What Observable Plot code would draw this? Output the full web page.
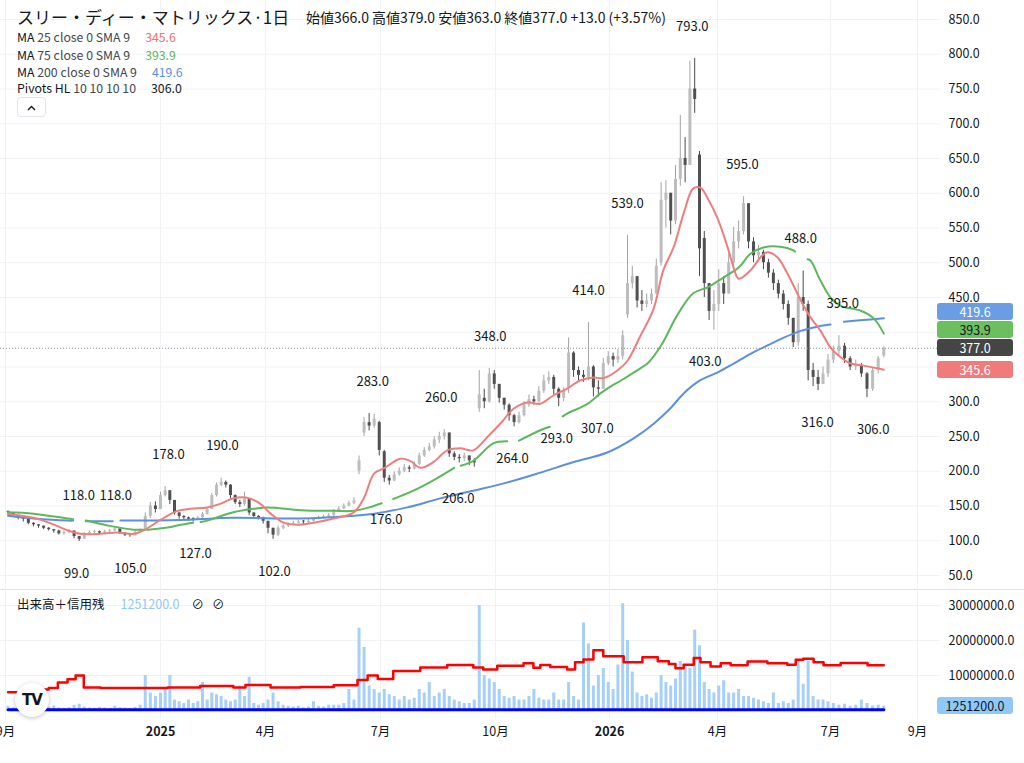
<!DOCTYPE html>
<html lang="ja"><head><meta charset="utf-8">
<script src="https://cdn.jsdelivr.net/npm/d3@7"></script>
<script src="https://cdn.jsdelivr.net/npm/@observablehq/plot@0.6"></script>
<style>
html,body{margin:0;padding:0;background:#fff;}
body{font-family:"Noto Sans CJK JP","Noto Sans",sans-serif;color:#131722;}
#wrap{position:relative;width:1024px;height:763px;overflow:hidden;background:#fff;}
.abs{position:absolute;white-space:nowrap;}
#title{left:17px;top:6px;font-size:17px;line-height:22px;}
#ohlc{left:306px;top:7px;font-size:14px;line-height:20px;}
.leg{left:17px;font-size:12.3px;line-height:16px;}
.leg .a{color:#434651;}
.leg .v{margin-left:15px;}
#btn{left:17px;top:97px;width:29px;height:20px;border:1px solid #e0e3eb;border-radius:4px;box-sizing:border-box;}
.badge{position:absolute;left:937px;width:76px;height:17px;border-radius:3px;font-size:12.5px;line-height:17px;text-align:center;}
#price{position:absolute;left:0;top:0;}
#vol{position:absolute;left:0;top:589px;}
#sep{position:absolute;left:0;top:589px;width:1024px;height:1px;background:#e0e3eb;}
#logo{left:15px;top:683px;width:34px;height:34px;border-radius:50%;background:#fff;box-shadow:0 1px 4px rgba(0,0,0,.25);font-weight:900;font-size:15px;line-height:34px;text-align:center;letter-spacing:-1px;font-family:"DejaVu Sans",sans-serif;}
#vleg{left:17px;top:596px;font-size:12.5px;line-height:16px;}
</style></head>
<body><div id="wrap">
<div id="price"></div>
<div id="sep"></div>
<div id="vol"></div>
<div class="abs" id="title">スリー・ディー・マトリックス·1日</div>
<div class="abs" id="ohlc">始値366.0 高値379.0 安値363.0 終値377.0 +13.0 (+3.57%)</div>
<div class="abs leg" style="top:29px">MA <span class="a">25 close 0 SMA 9</span><span class="v" style="color:#ef6f6f">345.6</span></div>
<div class="abs leg" style="top:47px">MA <span class="a">75 close 0 SMA 9</span><span class="v" style="color:#5cb85c">393.9</span></div>
<div class="abs leg" style="top:64px">MA <span class="a">200 close 0 SMA 9</span><span class="v" style="color:#5b8fdf">419.6</span></div>
<div class="abs leg" style="top:80px">Pivots HL <span class="a">10 10 10 10</span><span class="v" style="color:#131722">306.0</span></div>
<div class="abs" id="btn"><svg width="27" height="18"><path d="M10 11 L13.5 7.5 L17 11" fill="none" stroke="#131722" stroke-width="1.4"/></svg></div>
<div class="abs" id="vleg">出来高＋信用残<span style="color:#90c8f8;margin-left:16px">1251200.0</span><span style="margin-left:12px">⊘</span><span style="margin-left:8px">⊘</span></div>
<div class="abs" id="logo">TV</div>
</div>
<script>
// ---- data (daily chart sampled every 4 calendar days) ----
const START_DATE = "2024-09-03";
const STEP_DAYS = 4;
const open = [141,140,136,133,131,125,123,121,118,116,
114,110,112,114,106,102,110,112,113,111,
113,114,117,111,108,107,112,115,135,150,
145,165,172,158,140,135,133,131,130,133,
138,145,165,180,184,180,165,155,152,160,
140,135,133,128,118,108,118,121,124,125,
127,126,128,131,133,134,136,142,146,150,
154,200,255,270,265,270,228,190,186,195,
200,205,203,210,222,230,235,245,250,255,
225,220,218,222,215,290,305,300,340,325,
305,295,280,270,280,295,303,300,315,330,
335,318,305,320,370,345,338,335,350,320,
318,355,365,360,365,425,470,480,445,440,
445,455,500,590,600,560,620,650,640,750,
655,535,470,430,440,470,455,500,530,545,
585,530,510,515,500,485,470,455,440,420,
385,450,440,345,335,325,340,360,372,380,
362,350,352,340,318,345,366];
const high = [143,140,137,135,130,126,123,121,119,116,
115,114,116,114,106,112,114,115,114,115,
116,119,117,111,109,114,117,140,155,156,
170,178,172,158,141,136,134,133,135,141,
148,168,183,190,186,181,166,158,170,160,
140,136,134,128,118,121,124,126,128,129,
129,131,133,135,137,139,145,149,153,157,
162,222,277,283,282,272,230,194,199,205,
210,208,214,226,234,240,250,256,260,255,
228,224,226,222,218,345,318,348,345,325,
305,297,282,285,300,310,308,322,338,343,
338,320,320,392,372,350,345,414,352,330,
362,372,370,375,402,539,495,480,460,455,
462,505,615,618,600,640,712,680,790,794,
660,545,470,460,490,480,513,551,560,595,
585,536,525,518,505,490,475,460,445,420,
470,488,445,355,345,350,368,380,395,384,
365,360,355,342,348,365,379];
const low = [137,134,130,127,123,120,118,116,114,111,
108,108,110,103,99,102,109,110,109,110,
111,113,109,106,105,107,111,115,132,140,
145,163,152,137,131,130,128,127,129,132,
137,145,163,178,176,160,152,148,150,136,
132,130,124,110,102,106,116,119,122,124,
123,125,127,130,131,133,135,141,145,149,
152,195,250,258,262,222,184,180,185,193,
198,198,202,208,220,228,232,240,245,220,
215,212,214,208,206,285,290,298,318,298,
288,272,264,268,278,292,295,298,312,325,
310,293,300,312,335,330,328,330,307,307,
318,352,350,355,360,420,462,435,430,435,
440,455,495,550,540,555,610,615,640,715,
480,450,417,403,430,440,455,495,520,540,
520,500,500,490,478,460,448,432,410,378,
380,430,330,322,316,325,335,355,365,355,
345,345,335,306,315,340,363];
const close = [140,136,133,131,125,123,121,118,116,114,
110,112,114,106,102,110,112,113,111,113,
114,117,111,108,107,112,115,135,150,145,
165,172,158,140,135,133,131,130,133,138,
145,165,180,184,180,165,155,152,160,140,
135,133,128,118,108,118,121,124,125,127,
126,128,131,133,134,136,142,146,150,154,
157,215,270,265,275,230,190,186,195,200,
205,203,210,222,230,235,245,250,255,225,
220,218,222,215,212,310,300,340,325,305,
295,280,270,280,295,303,300,315,330,335,
318,305,315,370,345,338,335,350,320,318,
355,365,360,365,395,470,480,445,440,445,
455,495,590,600,560,620,650,640,750,735,
520,470,430,440,470,455,500,530,545,585,
530,510,515,500,485,470,455,440,420,385,
450,440,345,335,325,340,360,372,380,362,
350,352,340,318,345,362,377];
// volume, millions of shares
const volumeM = [1.2,0.8,1.5,1.0,0.8,1.2,0.7,0.6,0.9,1.3,
0.7,0.6,0.8,1.5,1.8,1.0,0.7,0.6,0.9,0.7,
0.5,1.2,0.8,0.7,0.6,0.9,1.5,10,5,4,
5,6,10,3,2.5,2,3,2,2.5,8,
3,5,4.5,4,3,2.5,3,7,4,9.5,
2,1.5,2,3,5,2.5,1.5,1.2,1,1.2,
0.8,1,2.5,1.2,1,1.5,1.5,1.5,2,6,
3,23.5,18,7,6,5,6,4.5,4,3,
4,3,3.5,6,5,8,4,5,6,4,
3,2.5,2,2,3,30,10,9,8,6,
4,3.5,4,3,3,4,6,3.5,3,3,
5,3,3,8,4,3,25,19,7,10,
12,8,6,13,30.5,20,11,5,4,4.5,
3.5,5,10,8,7,9,14,13,12,23,
18.5,8,6,5,7,8.5,5,5,6,4,
4,3.5,3,2.5,2,5,2,2.5,2,3,
14,7.5,14,4,3,3,2.5,2,1.5,1.8,
1.2,1.5,3,2,1.3,1.5,1.2512];
// moving averages (position = bar number, null = gap)
const ma25K = [0,5,8.4,11.7,14.3,18.2,21.5,24.7,26.7,30,33.6,36.4,40,42.8,45.6,48.6,51.4,53.5,56.1,58.8,62,66,70,72,74,75.9,79.2,81.2,83.2,85.8,88.6,91.2,93.8,96.6,99.3,101.9,104.7,107.3,109.9,112.7,115.4,118,120,122.9,125,127.7,130.4,132.5,134.6,136.7,138.7,140.2,141.6,143.7,145.8,147,148,150.4,152.4,153.8,155.8,157.8,160.5,162.5,164.5,166.5,168.3,170.1,172.4,174.9,176];
const ma25V = [139,133,125,115,110,110,112,110,115,130,143,146,148,153,161,162,153,139,126,123,126,132,141,162,197,204,218,215,205,213,230,233,230,249,269,290,299,297,309,319,331,335,334,345,359,395,433,490,522,571,607,608,594,565,522,493,477,489,508,515,508,485,446,421,402,378,364,355,352,348,346];
const ma75K = [0,5,11.7,12.8,13.5,15.3,19.6,24.7,27.5,31.5,34.3,37,37.8,38.6,40,45.6,49.9,53,59.4,66,70,73,75.5,76.7,77.8,81.8,85.8,90,90.6,91.3,93.8,97.8,100.6,101.8,103,107.3,109.2,110.5,111.8,112.7,116.8,119.4,120.8,124,126.5,129.3,132.1,135.4,138.7,141.8,145,148,150.4,153,156.4,159,159.4,160.4,161.9,162.5,164.5,166.5,168.3,171.9,174.2,176];
const ma75V = [141,139,132,131,null,129,122,116,116,119,123,126,null,127,129,141,146,148,144,143,143,148,154,null,160,172,187,205,null,208,215,240,243,null,244,259,264,null,279,283,297,312,319,332,343,356,382,425,456,465,479,493,513,522,523,518,516,null,505,503,474,450,438,431,420,398];
const ma200K = [0,5,11.7,12.8,13.8,15.3,19.6,20.6,21.2,22.1,34.3,45.6,59.4,70,74,80.6,87.2,93.8,100.7,107.3,113.9,120.8,126.2,130.4,134,136.7,140.2,143.7,147,150.4,153.8,157,160.5,163.9,166.5,167.5,168.9,173,176];
const ma200V = [136,132,129,129,null,128,128,128,null,129,130,133,132,136,139,148,161,172,184,198,213,227,247,268,291,312,331,342,355,369,381,392,402,408,411,null,415,418,420];
// pivots HL
const pivotHighK = [13.9,21.2,31.7,43.3,73.7,87.4,97.2,117,125,138.5,148.8,160.5,168.7];
const pivotHighV = [118,118,178,190,283,260,348,414,539,793,595,488,395];
const pivotLowK = [13.5,24.1,37.5,54.3,76.4,90.8,101.7,110.6,118.8,141.2,163.9,174.1];
const pivotLowV = [99,105,127,102,176,206,264,293,307,403,316,306];
// credit balance (step) and short balance, millions
const creditK = [0,5,8,9.8,11.7,13.3,14.9,18.2,31.5,38.5,45.6,48.2,53.5,59.4,66,70.7,72.7,74.7,77.8,83.2,88.6,93.8,95.8,98.6,103.9,105.9,107.3,109.3,112.7,114.3,116,118,120,124.2,128.1,131.3,133.6,135,136.7,138.8,140.2,142.3,144.4,146.4,149.8,153.8,157.8,159.5,161,163.1,165.1,168.3,173.1,176];
const creditV = [5.2,6.0,6.4,8.0,8.9,10.0,6.6,6.4,6.6,7.0,6.6,7.3,6.6,6.7,7.2,8.7,10,9.0,11.3,12.3,13,12.3,11.7,12.8,13.5,12.2,13,12.4,11.7,13.8,14.6,17.2,15.5,13.8,15.2,14.1,13.3,12.1,13.1,15,13.8,12.6,13.5,12.9,14,13.5,13.1,14.5,14.8,13.8,12.9,13.6,12.9,12.9];
const sellK = [0,176];
const sellV = [0.25,0.25];
// axes
const xTickDates = ["2024-09-01","2025-01-01","2025-04-01","2025-07-01","2025-10-01","2026-01-01","2026-04-01","2026-07-01","2026-09-01"];
const xTickLabels = ["9月","2025","4月","7月","10月","2026","4月","7月","9月"];
const xTickPx = [5,160,265,380,495,609,717,830,917];
const priceGrid = [50,100,150,200,250,300,350,400,450,500,550,600,650,700,750,800,850];
const priceLabels = [50,100,150,200,250,300,450,500,550,600,650,700,750,800,850]; // 350/400 hidden under badges
const volTicksM = [10,20,30];
const badgeValues = [419.6,393.9,377.0,345.6];
const badgeColors = ["#6a9de4","#6cbf5e","#454545","#ef7b7b"];
const badgeText = ["#ffffff","#131722","#ffffff","#ffffff"];
const volBadgeM = 1.2512;

// ---- build ----
const t0 = Date.parse(START_DATE);
const dateAt = k => new Date(t0 + k * STEP_DAYS * 864e5);
const candles = close.map((c, i) => ({date: dateAt(i), o: open[i], h: high[i], l: low[i], c, v: volumeM[i]}));
const series = (K, V) => K.map((k, i) => ({date: dateAt(k), v: V[i]}));
const xDates = xTickDates.map(s => new Date(s));
const xTicks = xDates.map((d, i) => ({date: d, label: xTickLabels[i], year: /^\d{4}$/.test(xTickLabels[i])}));
const xOpt = {type: "utc", domain: xDates, range: xTickPx, axis: null};
const FONT = '"Noto Sans CJK JP","Noto Sans",sans-serif';
const GRID = "#f0f2f6";
const TXT = "#131722";

const price = Plot.plot({
  width: 1024, height: 589, marginTop: 0, marginBottom: 0, marginLeft: 0, marginRight: 84,
  x: xOpt,
  y: {domain: [50, 850], range: [575, 19], axis: null},
  style: {fontFamily: FONT, fontSize: "12.5px", color: TXT, background: "transparent", overflow: "visible"},
  marks: [
    Plot.ruleX(xDates, {stroke: GRID}),
    Plot.ruleY(priceGrid, {stroke: GRID}),
    Plot.ruleX(candles, {x: "date", y1: "l", y2: "h", stroke: d => d.c >= d.o ? "#a3a3a3" : "#4a4a4a", strokeWidth: 1}),
    Plot.ruleX(candles, {x: "date", y1: "o", y2: d => Math.abs(d.c - d.o) < 1.2 ? d.o + 1.2 : d.c, stroke: d => d.c >= d.o ? "#bdbdbd" : "#505050", strokeWidth: 3}),
    Plot.line(series(ma200K, ma200V), {x: "date", y: "v", stroke: "#5b8fdf", strokeWidth: 2, curve: "catmull-rom"}),
    Plot.line(series(ma75K, ma75V), {x: "date", y: "v", stroke: "#5cb85c", strokeWidth: 2, curve: "catmull-rom"}),
    Plot.line(series(ma25K, ma25V), {x: "date", y: "v", stroke: "#f07d7d", strokeWidth: 2, curve: "catmull-rom"}),
    Plot.ruleY([close[close.length - 1]], {stroke: "#8a8d96", strokeDasharray: "1,2"}),
    Plot.text(series(pivotHighK, pivotHighV), {x: "date", y: "v", text: d => d.v.toFixed(1), dy: -32, fontSize: 13, fill: TXT}),
    Plot.text(series(pivotLowK, pivotLowV), {x: "date", y: "v", text: d => d.v.toFixed(1), dy: 32, fontSize: 13, fill: TXT}),
    Plot.text(priceLabels, {y: d => d, text: d => d.toFixed(1), frameAnchor: "right", textAnchor: "start", dx: 8, fontSize: 12.5, fill: TXT})
  ]
});
document.getElementById("price").append(price);

const vol = Plot.plot({
  width: 1024, height: 174, marginTop: 0, marginBottom: 44, marginLeft: 0, marginRight: 84,
  x: xOpt,
  y: {domain: [0, 30], range: [121, 16], axis: null},
  style: {fontFamily: FONT, fontSize: "12.5px", color: TXT, background: "transparent", overflow: "visible"},
  marks: [
    Plot.ruleX(xDates, {stroke: GRID}),
    Plot.ruleY(volTicksM, {stroke: GRID}),
    Plot.ruleX(candles, {x: "date", y1: 0, y2: "v", stroke: "#a6d0f7", strokeWidth: 3}),
    Plot.line(series(creditK, creditV), {x: "date", y: "v", stroke: "#ff0000", strokeWidth: 2.5, curve: "step-after"}),
    Plot.line(series(sellK, sellV), {x: "date", y: "v", stroke: "#0000ff", strokeWidth: 3}),
    Plot.text(volTicksM, {y: d => d, text: d => (d * 1e6).toFixed(1), frameAnchor: "right", textAnchor: "start", dx: 8, fontSize: 12.5, fill: TXT}),
    Plot.text(xTicks.filter(d => !d.year), {x: "date", text: "label", frameAnchor: "bottom", dy: 16, fontSize: 12.5, fill: TXT}),
    Plot.text(xTicks.filter(d => d.year), {x: "date", text: "label", frameAnchor: "bottom", dy: 16, fontSize: 12.5, fontWeight: "bold", fill: TXT})
  ]
});
document.getElementById("vol").append(vol);

// price-axis badges (pushed apart like the original)
const wrap = document.getElementById("wrap");
const ys = price.scale("y");
const items = badgeValues.map((v, i) => ({v, i, py: ys.apply(v)})).sort((a, b) => b.py - a.py);
for (let j = 1; j < items.length; j++) items[j].py = Math.min(items[j].py, items[j - 1].py - 18);
for (const it of items) {
  const b = document.createElement("div");
  b.className = "badge";
  b.style.top = (it.py - 8.5) + "px";
  b.style.background = badgeColors[it.i];
  b.style.color = badgeText[it.i];
  b.textContent = it.v.toFixed(1);
  wrap.append(b);
}
const vb = document.createElement("div");
vb.className = "badge";
vb.style.top = (589 + vol.scale("y").apply(volBadgeM) - 8.5) + "px";
vb.style.background = "#90c8f8";
vb.style.color = TXT;
vb.textContent = (volBadgeM * 1e6).toFixed(1);
wrap.append(vb);
</script>
</body></html>
